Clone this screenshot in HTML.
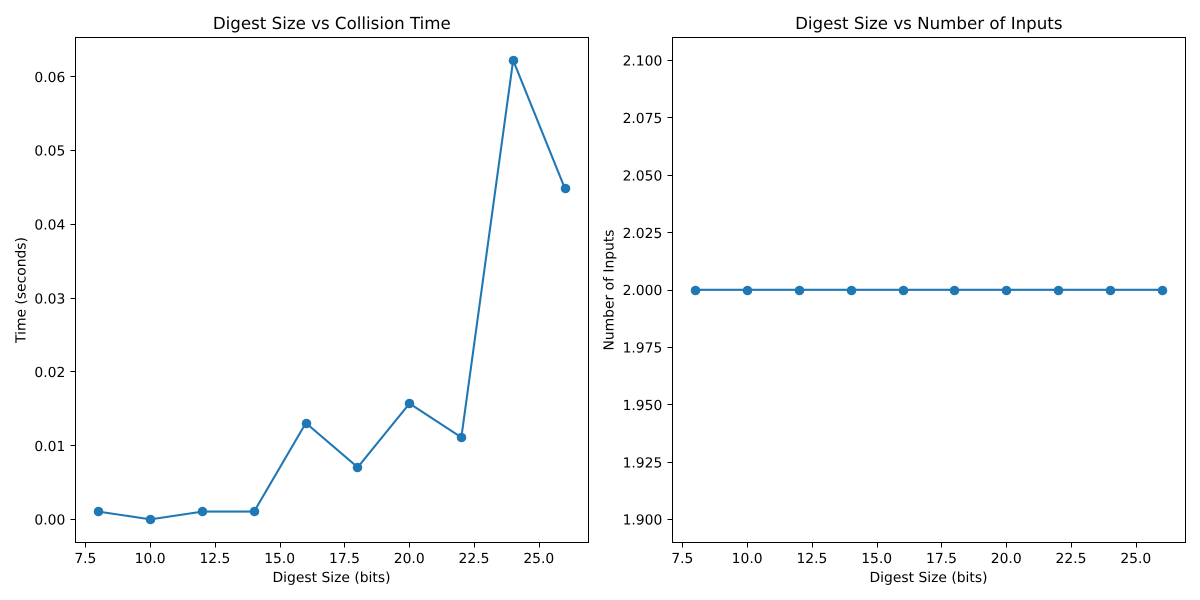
<!DOCTYPE html>
<html>
<head>
<meta charset="utf-8">
<style>
html,body{margin:0;padding:0;background:#fff;width:1200px;height:600px;overflow:hidden}
svg{display:block}
text{font-family:"DejaVu Sans",sans-serif;fill:#000;text-rendering:geometricPrecision}
</style>
</head>
<body>
<svg id="chart" xmlns="http://www.w3.org/2000/svg" width="1200" height="600" viewBox="0 0 1200 600"></svg>
<script>
const digestSizes = [8, 10, 12, 14, 16, 18, 20, 22, 24, 26];
const collisionTimes = [0.00105, 0, 0.00105, 0.00105, 0.01305, 0.00705, 0.0157, 0.0111, 0.0622, 0.0448];
const inputCounts = [2, 2, 2, 2, 2, 2, 2, 2, 2, 2];
const xTickValues = [7.5, 10, 12.5, 15, 17.5, 20, 22.5, 25];
const xTickLabels = ['7.5', '10.0', '12.5', '15.0', '17.5', '20.0', '22.5', '25.0'];
const timeTickValues = [0, 0.01, 0.02, 0.03, 0.04, 0.05, 0.06];
const timeTickLabels = ['0.00', '0.01', '0.02', '0.03', '0.04', '0.05', '0.06'];
const inputTickValues = [1.9, 1.925, 1.95, 1.975, 2, 2.025, 2.05, 2.075, 2.1];
const inputTickLabels = ['1.900', '1.925', '1.950', '1.975', '2.000', '2.025', '2.050', '2.075', '2.100'];

const NS = 'http://www.w3.org/2000/svg';
const root = document.getElementById('chart');
const BLUE = '#1f77b4';

function el(parent, tag, attrs, txt) {
  const e = document.createElementNS(NS, tag);
  for (const k in attrs) e.setAttribute(k, attrs[k]);
  if (txt !== undefined) e.textContent = txt;
  parent.appendChild(e);
  return e;
}

function extent(a) {
  return [Math.min.apply(null, a), Math.max.apply(null, a)];
}

function paddedExtent(a, minSpan) {
  let [lo, hi] = extent(a);
  if (hi - lo < minSpan) { lo -= minSpan / 2; hi += minSpan / 2; }
  const m = (hi - lo) * 0.05;
  return [lo - m, hi + m];
}

function snap(v) {
  return Math.floor(v + 0.5) + 0.5;
}

function drawPanel(o) {
  const g = el(root, 'g', {});
  
  

  const L = o.left, R = o.left + 513, T = 37.5, B = 542.5;
  const xd = paddedExtent(digestSizes, 0);
  const yd = paddedExtent(o.values, o.minSpan);
  const sx = v => L + (v - xd[0]) / (xd[1] - xd[0]) * (R - L);
  const sy = v => B - (v - yd[0]) / (yd[1] - yd[0]) * (B - T);

  // x ticks
  xTickValues.forEach((v, i) => {
    const px = sx(v);
    const tick = el(g, 'line', {x1: snap(px), x2: snap(px), y1: B, y2: B + 5, stroke: '#000', 'stroke-width': 1});
    
    
    const lab = el(g, 'text', {x: px, y: B + 20.7, 'font-size': 13.89, 'text-anchor': 'middle'}, xTickLabels[i]);
    
    
  });

  // y ticks
  o.yTicks.forEach((v, i) => {
    const py = sy(v);
    const tick = el(g, 'line', {x1: L + 0.5 - 5, x2: L + 0.5, y1: snap(py - 0.5), y2: snap(py - 0.5), stroke: '#000', 'stroke-width': 1});
    
    
    const lab = el(g, 'text', {x: L - 9.7, y: py + 5.2, 'font-size': 13.89, 'text-anchor': 'end'}, o.yLabels[i]);
    
    
  });

  // series line
  const pts = digestSizes.map((d, i) => (sx(d) + 0.3).toFixed(2) + ',' + (sy(o.values[i]) - 0.2).toFixed(2)).join(' ');
  const line = el(g, 'polyline', {points: pts, fill: 'none', stroke: BLUE, 'stroke-width': 2.08, 'stroke-linejoin': 'round', 'stroke-linecap': 'square'});
  
  

  // markers
  digestSizes.forEach((d, i) => {
    const c = el(g, 'circle', {cx: snap(sx(d)), cy: Math.floor(sy(o.values[i])) + 0.5, r: 4.8, fill: BLUE});
    
    
  });

  // frame
  const frame = el(g, 'rect', {x: L + 0.5, y: T, width: R - L, height: B - T, fill: 'none', stroke: '#000', 'stroke-width': 1});
  
  

  // title
  const title = el(g, 'text', {x: (L + R) / 2 + 0.3, y: 29, 'font-size': 16.67, 'text-anchor': 'middle'}, o.title);
  
  

  // x axis title
  const xt = el(g, 'text', {x: (L + R) / 2, y: 582, 'font-size': 13.89, 'text-anchor': 'middle'}, 'Digest Size (bits)');
  
  

  // y axis title
  const cy = (T + B) / 2;
  const yt = el(g, 'text', {x: o.yTitleX, y: cy, 'font-size': 13.89, 'text-anchor': 'middle', transform: 'rotate(-90 ' + o.yTitleX + ' ' + cy + ')'}, o.yTitle);
  
  
}

drawPanel({
  name: 'collision-time',
  left: 75,
  values: collisionTimes,
  minSpan: 0,
  yTicks: timeTickValues,
  yLabels: timeTickLabels,
  title: 'Digest Size vs Collision Time',
  yTitle: 'Time (seconds)',
  yTitleX: 25.5
});

drawPanel({
  name: 'number-of-inputs',
  left: 672,
  values: inputCounts,
  minSpan: 0.2,
  yTicks: inputTickValues,
  yLabels: inputTickLabels,
  title: 'Digest Size vs Number of Inputs',
  yTitle: 'Number of Inputs',
  yTitleX: 613.5
});
</script>
</body>
</html>
